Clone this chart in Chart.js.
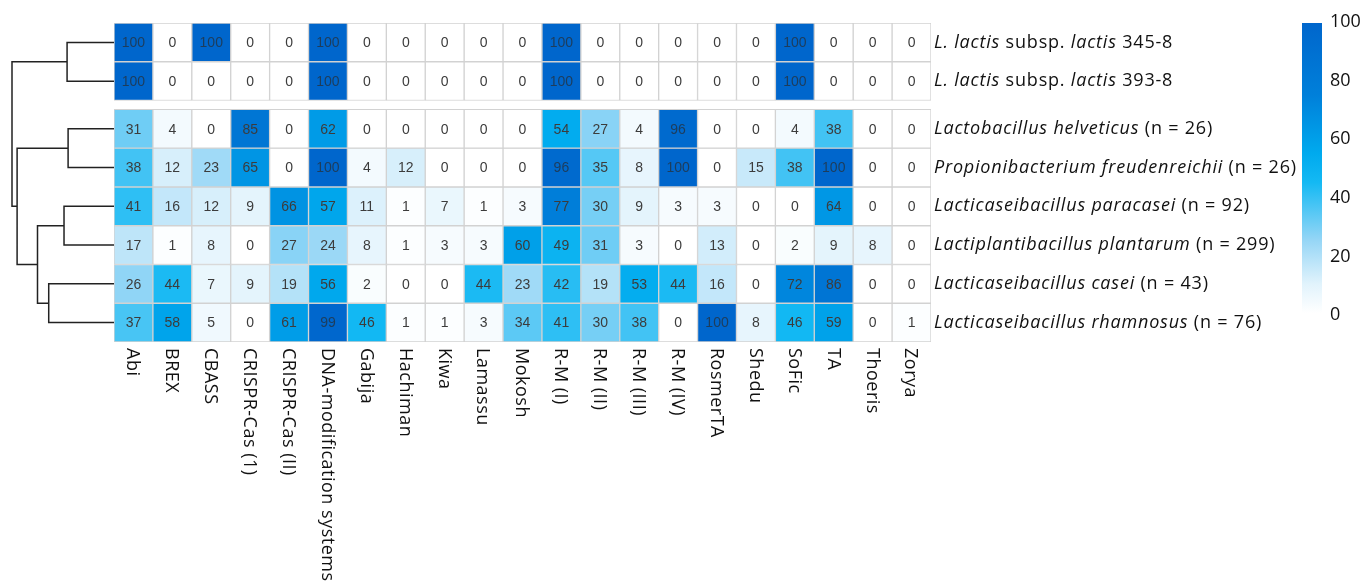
<!DOCTYPE html>
<html>
<head>
<meta charset="utf-8">
<script src="https://cdn.jsdelivr.net/npm/chart.js@4.4.1/dist/chart.umd.min.js"></script>
<style>
  html, body { margin: 0; padding: 0; background: #fff; }
  #wrap { width: 1363px; height: 584px; }
</style>
</head>
<body>
<div id="wrap"><canvas id="heatmap" width="1363" height="584"></canvas></div>
<script>
// defence systems (columns)
const systems = ['Abi', 'BREX', 'CBASS', 'CRISPR-Cas (1)', 'CRISPR-Cas (II)', 'DNA-modification systems',
  'Gabija', 'Hachiman', 'Kiwa', 'Lamassu', 'Mokosh', 'R-M (I)', 'R-M (II)', 'R-M (III)', 'R-M (IV)',
  'RosmerTA', 'Shedu', 'SoFic', 'TA', 'Thoeris', 'Zorya'];

// strains (rows), each label as [text, italic] pieces
const strains = [
  [['L. lactis', true], [' subsp. ', false], ['lactis', true], [' 345-8', false]],
  [['L. lactis', true], [' subsp. ', false], ['lactis', true], [' 393-8', false]],
  [['Lactobacillus helveticus', true], [' (n = 26)', false]],
  [['Propionibacterium freudenreichii', true], [' (n = 26)', false]],
  [['Lacticaseibacillus paracasei', true], [' (n = 92)', false]],
  [['Lactiplantibacillus plantarum', true], [' (n = 299)', false]],
  [['Lacticaseibacillus casei', true], [' (n = 43)', false]],
  [['Lacticaseibacillus rhamnosus', true], [' (n = 76)', false]]
];

// percent of genomes carrying each system
const lactis345 =    [100, 0, 100, 0, 0, 100, 0, 0, 0, 0, 0, 100, 0, 0, 0, 0, 0, 100, 0, 0, 0];
const lactis393 =    [100, 0, 0, 0, 0, 100, 0, 0, 0, 0, 0, 100, 0, 0, 0, 0, 0, 100, 0, 0, 0];
const helveticus =   [31, 4, 0, 85, 0, 62, 0, 0, 0, 0, 0, 54, 27, 4, 96, 0, 0, 4, 38, 0, 0];
const freudenreichii = [38, 12, 23, 65, 0, 100, 4, 12, 0, 0, 0, 96, 35, 8, 100, 0, 15, 38, 100, 0, 0];
const paracasei =    [41, 16, 12, 9, 66, 57, 11, 1, 7, 1, 3, 77, 30, 9, 3, 3, 0, 0, 64, 0, 0];
const plantarum =    [17, 1, 8, 0, 27, 24, 8, 1, 3, 3, 60, 49, 31, 3, 0, 13, 0, 2, 9, 8, 0];
const casei =        [26, 44, 7, 9, 19, 56, 2, 0, 0, 44, 23, 42, 19, 53, 44, 16, 0, 72, 86, 0, 0];
const rhamnosus =    [37, 58, 5, 0, 61, 99, 46, 1, 1, 3, 34, 41, 30, 38, 0, 100, 8, 46, 59, 0, 1];
const rows = [lactis345, lactis393, helveticus, freudenreichii, paracasei, plantarum, casei, rhamnosus];

// dendrogram merges: [left, right, height]; leaves 0..7, new nodes from 8
const linkage = [[0, 1, 0.46], [2, 3, 0.45], [4, 5, 0.49], [6, 7, 0.64], [10, 11, 0.75], [9, 12, 0.95], [8, 13, 1.0]];

const colourbarTicks = [0, 20, 40, 60, 80, 100];

// look
const colourStops = [[0, [255, 255, 255]], [10, [225, 243, 252]], [25, [150, 214, 246]], [45, [20, 185, 243]],
  [55, [0, 170, 238]], [75, [0, 128, 218]], [100, [0, 102, 204]]];
const groupGap = 0.23;      // space between the two row blocks, in rows
const labelFont = '"Open Sans", Lato, sans-serif';

function colourFor(v) {
  for (let i = 1; i < colourStops.length; i++) {
    const [v1, c1] = colourStops[i];
    const [v0, c0] = colourStops[i - 1];
    if (v <= v1) {
      const t = (v - v0) / (v1 - v0);
      const c = c0.map((a, k) => Math.round(a + (c1[k] - a) * t));
      return `rgb(${c[0]},${c[1]},${c[2]})`;
    }
  }
  const c = colourStops[colourStops.length - 1][1];
  return `rgb(${c[0]},${c[1]},${c[2]})`;
}

function rowTop(i) {
  return i + (i >= 2 ? groupGap : 0);
}

const datasets = rows.map((vals, r) => ({
  label: strains[r].map(p => p[0]).join(''),
  data: vals.map(() => [rowTop(r), rowTop(r) + 1]),
  values: vals,
  backgroundColor: vals.map(colourFor),
  borderColor: '#d2d2d2',
  borderWidth: 1,
  borderSkipped: false,
  grouped: false,
  barPercentage: 1,
  categoryPercentage: 1
}));

// numbers inside cells
const cellText = {
  id: 'cellText',
  afterDatasetsDraw(chart) {
    const ctx = chart.ctx;
    ctx.save();
    ctx.font = '14px "Liberation Sans", Arial, sans-serif';
    ctx.textAlign = 'center';
    ctx.textBaseline = 'middle';
    chart.data.datasets.forEach((ds, r) => {
      chart.getDatasetMeta(r).data.forEach((bar, c) => {
        const v = ds.values[c];
        ctx.fillStyle = v >= 90 ? '#1d3d5c' : '#3c3c3c';
        ctx.fillText(String(v), bar.x, (bar.y + bar.base) / 2 + 1);
      });
    });
    ctx.restore();
  }
};

// row labels, column labels, dendrogram and colour bar
const decorations = {
  id: 'decorations',
  afterDraw(chart) {
    const ctx = chart.ctx;
    const area = chart.chartArea;
    const xs = chart.scales.x;
    const ys = chart.scales.y;
    const rowMid = i => ys.getPixelForValue(rowTop(i) + 0.5);

    ctx.save();
    ctx.fillStyle = '#111';

    // row labels
    ctx.textBaseline = 'middle';
    ctx.textAlign = 'left';
    ctx.letterSpacing = '0.8px';
    strains.forEach((parts, i) => {
      let x = area.right + 3;
      const y = rowMid(i);
      parts.forEach(([txt, it]) => {
        ctx.font = (it ? 'italic ' : '') + '18px ' + labelFont;
        ctx.fillText(txt, x, y);
        x += ctx.measureText(txt).width;
      });
    });

    // column labels, reading downwards
    ctx.font = '18px ' + labelFont;
    ctx.letterSpacing = '0.5px';
    systems.forEach((s, i) => {
      ctx.save();
      ctx.translate(xs.getPixelForValue(i) - 1, area.bottom + 6);
      ctx.rotate(Math.PI / 2);
      ctx.textAlign = 'left';
      ctx.textBaseline = 'middle';
      ctx.fillText(s, 0, 0);
      ctx.restore();
    });
    ctx.letterSpacing = '0px';

    // dendrogram
    const leftEdge = 12;
    const hx = h => area.left - h * (area.left - leftEdge);
    const nodes = rows.map((_, i) => ({ x: area.left, y: rowMid(i) }));
    ctx.strokeStyle = '#222';
    ctx.lineWidth = 1.5;
    ctx.beginPath();
    linkage.forEach(([a, b, h]) => {
      const na = nodes[a], nb = nodes[b];
      const x = hx(h);
      ctx.moveTo(na.x, na.y);
      ctx.lineTo(x, na.y);
      ctx.lineTo(x, nb.y);
      ctx.lineTo(nb.x, nb.y);
      nodes.push({ x: x, y: (na.y + nb.y) / 2 });
    });
    ctx.stroke();

    // colour bar
    const cbX = 1302, cbW = 20, cbTop = 23, cbBottom = 313;
    const grad = ctx.createLinearGradient(0, cbBottom, 0, cbTop);
    colourStops.forEach(([v]) => grad.addColorStop(v / 100, colourFor(v)));
    ctx.fillStyle = grad;
    ctx.fillRect(cbX, cbTop, cbW, cbBottom - cbTop);
    ctx.fillStyle = '#111';
    ctx.font = '18px ' + labelFont;
    ctx.textAlign = 'left';
    ctx.textBaseline = 'middle';
    colourbarTicks.forEach(t => {
      const y = 315 - t * (315 - 22) / 100;
      ctx.fillText(String(t), 1330, y);
    });
    ctx.restore();
  }
};

new Chart(document.getElementById('heatmap').getContext('2d'), {
  type: 'bar',
  data: { labels: systems, datasets: datasets },
  options: {
    responsive: false,
    animation: false,
    events: [],
    layout: { padding: { left: 114, right: 432, top: 23, bottom: 242 } },
    scales: {
      x: { type: 'category', offset: true, display: false, grid: { display: false } },
      y: { type: 'linear', reverse: true, min: 0, max: rows.length + groupGap, display: false }
    },
    plugins: { legend: { display: false }, tooltip: { enabled: false } }
  },
  plugins: [cellText, decorations]
});
</script>
</body>
</html>
